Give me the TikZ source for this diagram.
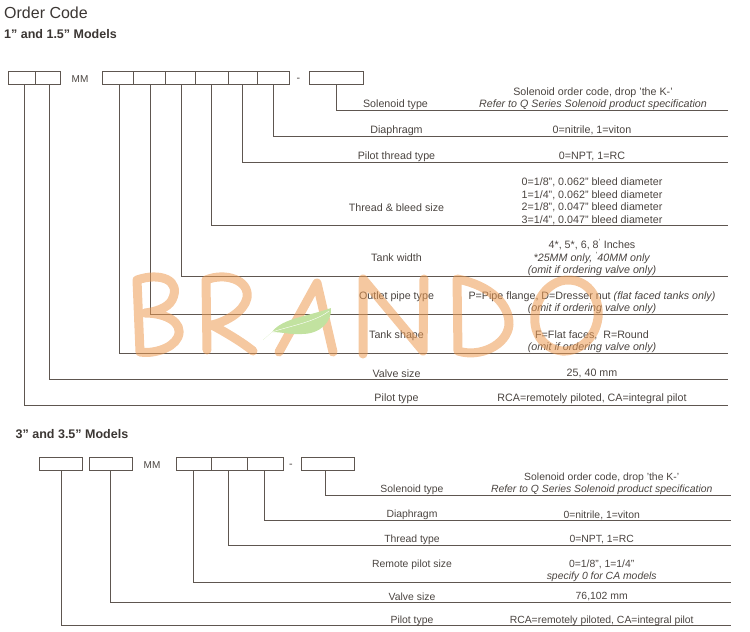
\documentclass[tikz,border=0pt]{standalone}
\usepackage{fontspec}
\setmainfont{Liberation Sans}
\usepackage{tikz}
\definecolor{inkc}{HTML}{4A4440}
\definecolor{linec}{HTML}{5E5650}
\definecolor{brandc}{HTML}{EC9A52}
\definecolor{leafc}{HTML}{C2E2A0}
\tikzset{
  codebox/.style={draw=linec,line width=0.9pt,inner sep=0,outer sep=0,minimum height=13.5,anchor=north west},
  rowline/.style={draw=linec,line width=1pt},
  rowname/.style={text=inkc,font=\fontsize{10.7}{12.4}\selectfont,inner sep=0,yshift=-0.8pt},
  rowtext/.style={rowname,align=center},
  lowname/.style={rowname,font=\fontsize{10.4}{12.4}\selectfont},
  lowtext/.style={lowname,align=center},
  heading/.style={text=inkc!80!black,inner sep=0,anchor=west},
  wmark/.style={draw=brandc,line width=9pt,line cap=round,line join=round,opacity=0.55},
}

\begin{document}
\begin{tikzpicture}[x=1pt,y=-1pt]
\useasboundingbox (0,0) rectangle (750,632);
\node [heading,font=\fontsize{16}{18}\selectfont] (title) at (4,13) {Order Code};
\node [heading,font=\fontsize{12.5}{14}\selectfont\bfseries] (modelsa) at (4,34) {1" and 1.5" Models};
\node [heading,font=\fontsize{12.5}{14}\selectfont\bfseries] (modelsb) at (15.5,434.5) {3" and 3.5" Models};

\node [codebox,minimum width=27] (pilota) at (8,71) {};
\node [codebox,minimum width=25] (valvea) at (35,71) {};
\node [rowname,font=\fontsize{10}{12}\selectfont] (mma) at (80,78) {MM};
\node [codebox,minimum width=31] (shapea) at (102,71) {};
\node [codebox,minimum width=32] (outleta) at (133,71) {};
\node [codebox,minimum width=30.5] (widtha) at (165,71) {};
\node [codebox,minimum width=32.5] (bleeda) at (195.5,71) {};
\node [codebox,minimum width=29] (threada) at (228,71) {};
\node [codebox,minimum width=32] (diaa) at (257,71) {};
\node [rowname] (dasha) at (298.5,79) {-};
\node [codebox,minimum width=54] (sola) at (309,71) {};

\coordinate (solaend) at (728,110.5);
\coordinate (diaaend) at (728,136);
\coordinate (threadaend) at (728,162);
\coordinate (bleedaend) at (728,225.6);
\coordinate (widthaend) at (728,276.7);
\coordinate (outletaend) at (728,314);
\coordinate (shapeaend) at (728,353);
\coordinate (valveaend) at (728,379);
\coordinate (pilotaend) at (728,405);

\draw [rowline] (sola.south) |- (solaend);
\draw [rowline] (diaa.south) |- (diaaend);
\draw [rowline] (threada.south) |- (threadaend);
\draw [rowline] (bleeda.south) |- (bleedaend);
\draw [rowline] ([xshift=1]widtha.south) |- (widthaend);
\draw [rowline] ([xshift=1]outleta.south) |- (outletaend);
\draw [rowline] ([xshift=1.5]shapea.south) |- (shapeaend);
\draw [rowline] ([xshift=2]valvea.south) |- (valveaend);
\draw [rowline] ([xshift=3]pilota.south) |- (pilotaend);

\node [rowname] (solname) at (395.5,104) {Solenoid type};
\node [rowtext] (soltext) at (593,98) {Solenoid order code, drop 'the K-'\\\textit{Refer to Q Series Solenoid product specification}};
\node [rowname] (dianame) at (396.5,130) {Diaphragm};
\node [rowtext] (diatext) at (592,130) {0=nitrile, 1=viton};
\node [rowname] (threadname) at (396.5,156) {Pilot thread type};
\node [rowtext] (threadtext) at (592,156) {0=NPT, 1=RC};
\node [rowname] (bleedname) at (396.5,206.5) {Thread \& bleed size};
\node [rowtext] (bleedtext) at (592,200.5) {0=1/8", 0.062" bleed diameter\\1=1/4", 0.062" bleed diameter\\2=1/8", 0.047" bleed diameter\\3=1/4", 0.047" bleed diameter};
\node [rowname] (widthname) at (396.5,257) {Tank width};
\node [rowtext] (widthtext) at (592,257) {4*, 5*, 6, 8\textsuperscript{'} Inches\\\textit{*25MM only, \textsuperscript{'}40MM only}\\\textit{(omit if ordering valve only)}};
\node [rowname] (outletname) at (396.5,296) {Outlet pipe type};
\node [rowtext] (outlettext) at (592,302) {P=Pipe flange, D=Dresser nut \textit{(flat faced tanks only)}\\\textit{(omit if ordering valve only)}};
\node [rowname] (shapename) at (396.5,334.5) {Tank shape};
\node [rowtext] (shapetext) at (592,341) {F=Flat faces,\ \ R=Round\\\textit{(omit if ordering valve only)}};
\node [rowname] (valvename) at (396.5,372.5) {Valve size};
\node [rowtext] (valvetext) at (592,372.5) {25, 40 mm};
\node [rowname] (pilotname) at (396.5,398) {Pilot type};
\node [rowtext] (pilottext) at (592,398) {RCA=remotely piloted, CA=integral pilot};

\node [codebox,minimum width=43,minimum height=13] (pilotb) at (39,457.7) {};
\node [codebox,minimum width=43,minimum height=13] (valveb) at (89,457) {};
\node [rowname,font=\fontsize{10}{12}\selectfont] (mmb) at (152,464.5) {MM};
\node [codebox,minimum width=35.5,minimum height=13] (remoteb) at (176,457.7) {};
\node [codebox,minimum width=36,minimum height=13] (threadb) at (211.5,457.7) {};
\node [codebox,minimum width=35.5,minimum height=13] (diab) at (247.5,457.7) {};
\node [rowname] (dashb) at (291,465) {-};
\node [codebox,minimum width=53,minimum height=13] (solb) at (301,457.7) {};

\coordinate (solbend) at (730.5,495.7);
\coordinate (diabend) at (730.5,520);
\coordinate (threadbend) at (730.5,545.3);
\coordinate (remotebend) at (730.5,582);
\coordinate (valvebend) at (730.5,602.7);
\coordinate (pilotbend) at (730.5,625.7);

\draw [rowline] ([xshift=-2.5]solb.south) |- (solbend);
\draw [rowline] ([xshift=-1.2]diab.south) |- (diabend);
\draw [rowline] ([xshift=-1.2]threadb.south) |- (threadbend);
\draw [rowline] ([xshift=0.2]remoteb.south) |- (remotebend);
\draw [rowline] (valveb.south) |- (valvebend);
\draw [rowline] ([xshift=0.5]pilotb.south) |- (pilotbend);

\node [lowname] (solbname) at (412,489.3) {Solenoid type};
\node [lowtext] (solbtext) at (601.7,483.3) {Solenoid order code, drop 'the K-'\\\textit{Refer to Q Series Solenoid product specification}};
\node [lowname] (diabname) at (412,514.5) {Diaphragm};
\node [lowtext] (diabtext) at (601.7,514.5) {0=nitrile, 1=viton};
\node [lowname] (threadbname) at (412,539) {Thread type};
\node [lowtext] (threadbtext) at (601.7,539) {0=NPT, 1=RC};
\node [lowname] (remotebname) at (412,564) {Remote pilot size};
\node [lowtext] (remotebtext) at (601.7,570) {0=1/8", 1=1/4"\\\textit{specify 0 for CA models}};
\node [lowname] (valvebname) at (412,596) {Valve size};
\node [lowtext] (valvebtext) at (601.7,596) {76,102 mm};
\node [lowname] (pilotbname) at (412,620) {Pilot type};
\node [lowtext] (pilotbtext) at (601.7,620) {RCA=remotely piloted, CA=integral pilot};

\draw [wmark] (140,352) -- (137,280) .. controls (160,272) and (182,280) .. (172,300) .. controls (168,308) and (155,312) .. (145,313) .. controls (165,313) and (184,322) .. (178,337) .. controls (172,350) and (150,354) .. (140,352);
\draw [wmark] (207,350) -- (206,280) .. controls (225,272) and (250,280) .. (247,298) .. controls (244,312) and (225,322) .. (212,325) .. controls (225,332) and (242,342) .. (253,351);
\draw [wmark] (279,352) -- (317,283) -- (333,352);
\draw [wmark] (363,354) -- (363,279) -- (423,351) -- (424,279);
\draw [wmark] (458,351) -- (457,279) .. controls (490,285) and (510,305) .. (509,325) .. controls (507,345) and (480,358) .. (458,351);
\draw [wmark] (568,280) .. controls (590,280) and (600,300) .. (598,318) .. controls (595,340) and (578,352) .. (562,351) .. controls (545,349) and (533,335) .. (535,315) .. controls (537,295) and (552,280) .. (568,280);
\fill [leafc] (263,340) -- (272,332) .. controls (282,318) and (310,316) .. (331,308) .. controls (332,322) and (320,334) .. (302,334) .. controls (292,335) and (282,332) .. (272,332) -- cycle;
\draw [white,line width=0.4pt] (272,332) .. controls (290,326) and (315,322) .. (329,311);
\end{tikzpicture}
\end{document}
